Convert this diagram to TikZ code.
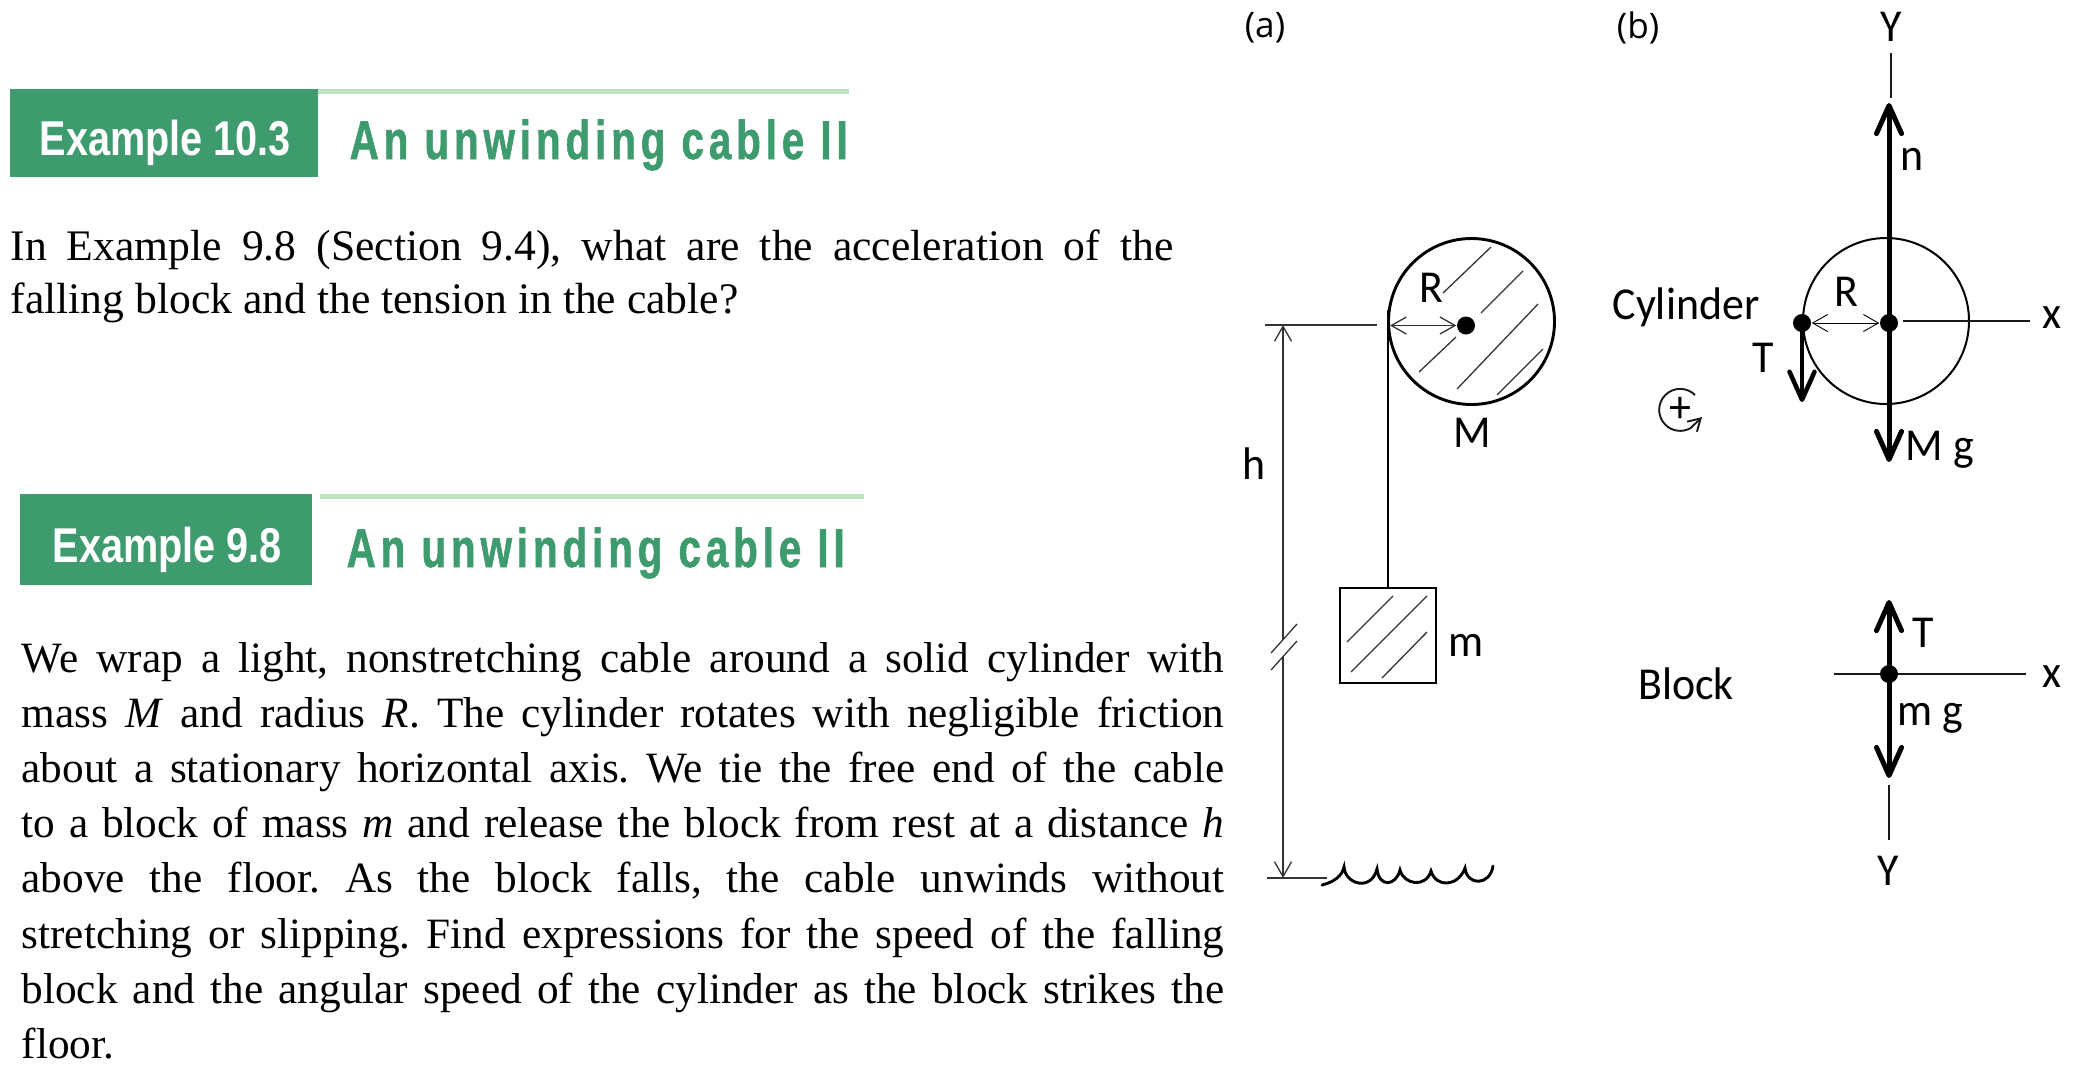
\documentclass[tikz,border=0pt]{standalone}
\usepackage{fontspec}
\setmainfont{Liberation Serif}
\newfontfamily\headfont[FakeStretch=0.81]{Liberation Sans}
\newfontfamily\titlefont[FakeStretch=0.74,LetterSpace=9,BoldFeatures={FakeBold=1}]{Liberation Sans}
\newfontfamily\handfont[FakeStretch=0.96]{Carlito}
\newfontfamily\capfont{Open Sans}
\usetikzlibrary{arrows.meta}
\definecolor{bookgreen}{HTML}{3D9B6E}
\definecolor{palegreen}{HTML}{BCE4C0}
\tikzset{
	x=0.01cm, y=-0.01cm,
	thinline/.style={line width=0.013cm, color=black!80},
	axisline/.style={line width=0.019cm, color=black!90},
	heavyline/.style={line width=0.029cm},
	forceline/.style={line width=0.05cm, -{Straight Barb[length=0.28cm, width=0.25cm, round]}},
	dimtip/.style={{Straight Barb[length=0.15cm, width=0.17cm]}-{Straight Barb[length=0.15cm, width=0.17cm]}},
	dot/.style={circle, fill=black, inner sep=0pt, minimum size=0.18cm},
	bodytext/.style={anchor=base west, inner sep=0pt, align=justify, font=\frenchspacing\fontsize{12.3pt}{15.7pt}\selectfont},
	headtext/.style={anchor=base west, inner sep=0pt, text=white, font=\headfont\bfseries\fontsize{13.9pt}{14pt}\selectfont},
	titletext/.style={anchor=base west, inner sep=0pt, text=bookgreen, font=\titlefont\bfseries\fontsize{15.5pt}{16pt}\selectfont},
	handtext/.style={inner sep=0pt, font=\handfont\fontsize{13pt}{14pt}\selectfont},
	captext/.style={inner sep=0pt, font=\capfont\fontsize{10pt}{12pt}\selectfont},
}
\begin{document}
\begin{tikzpicture}
	%%%%% START %%%%%
	\useasboundingbox (0, 0) rectangle (2073, 1090);

	% upper example
	\fill[bookgreen] (10, 89) rectangle (318, 177);
	\fill[palegreen] (318, 89) rectangle (849, 94);
	\node[headtext] (headA) at (39, 155) {Example 10.3};
	\node[titletext] (titleA) at (349, 159) {An unwinding cable II};
	\node[bodytext, text width=11.62cm, font=\frenchspacing\fontsize{12.4pt}{15.1pt}\selectfont] (textA) at (10, 260) {In Example 9.8 (Section 9.4), what are the acceleration of the\linebreak falling block and the tension in the cable?};

	% lower example
	\fill[bookgreen] (20, 494) rectangle (312, 585);
	\fill[palegreen] (320, 494) rectangle (864, 499);
	\node[headtext] (headB) at (52, 562) {Example 9.8};
	\node[titletext] (titleB) at (346, 567) {An unwinding cable II};
	\node[bodytext, text width=12.02cm] (textB) at (21, 672) {We wrap a light, nonstretching cable around a solid cylinder with\linebreak mass \textit{M} and radius \textit{R}. The cylinder rotates with negligible friction\linebreak about a stationary horizontal axis. We tie the free end of the cable\linebreak to a block of mass \textit{m} and release the block from rest at a distance \textit{h}\linebreak above the floor. As the block falls, the cable unwinds without\linebreak stretching or slipping. Find expressions for the speed of the falling\linebreak block and the angular speed of the cylinder as the block strikes the\linebreak floor.};

	% figure (a)
	\node[captext] (capA) at (1265, 28) {(a)};
	\draw[heavyline] (1471.5, 321.5) circle[radius=83];
	\node[dot] (axleA) at (1466, 325.5) {};
	\coordinate (rimA) at (1390, 325.5);
	\draw[thinline, dimtip] (rimA) -- (axleA);
	\foreach \xa/\ya/\xb/\yb in {1443/293/1491/247, 1481/313/1523/271, 1419/372/1456/337, 1457/389/1538/304, 1497/395/1543/349}
		\draw[thinline] (\xa, \ya) -- (\xb, \yb);
	\node[handtext] (radA) at (1431, 288) {R};
	\node[handtext] (massM) at (1472, 433) {M};

	\draw[heavyline] (1340, 588) rectangle (1436, 683);
	\coordinate (blockTop) at (1388, 588);
	\draw[line width=0.022cm] (1388, 310) -- (blockTop);
	\foreach \xa/\ya/\xb/\yb in {1347/642/1393/596, 1351/672/1427/596, 1382/678/1427/632}
		\draw[thinline] (\xa, \ya) -- (\xb, \yb);
	\node[handtext] (massm) at (1466, 645) {m};

	\draw[thinline] (1265, 325) -- (1377, 325);
	\draw[thinline] (1267, 878) -- (1327, 878);
	\draw[thinline, {Straight Barb[length=0.15cm, width=0.17cm]}-] (1283, 325) -- (1283, 640);
	\draw[thinline, -{Straight Barb[length=0.15cm, width=0.17cm]}] (1283, 657) -- (1283, 878);
	\draw[thinline] (1271, 653) -- (1297, 624);
	\draw[thinline] (1271, 670) -- (1297, 641);
	\node[handtext] (dist) at (1254, 464) {h};
	\draw[heavyline, line cap=round] (1322, 885) .. controls (1334, 882) and (1342, 876) .. (1344, 867)
		.. controls (1345, 884) and (1371, 892) .. (1377, 869)
		.. controls (1379, 888) and (1396, 886) .. (1400, 870)
		.. controls (1404, 885) and (1426, 888) .. (1431, 871)
		.. controls (1436, 888) and (1458, 887) .. (1465, 868)
		.. controls (1467, 886) and (1490, 886) .. (1493, 866);

	% figure (b), cylinder
	\node[captext] (capB) at (1638, 28) {(b)};
	\node[handtext] (axisY) at (1891, 27) {Y};
	\node[handtext] (axisX) at (2052, 318) {x};
	\draw[axisline] (1891, 53) -- (1891, 98);
	\draw[line width=0.02cm] (1886, 321) circle[radius=83];
	\node[dot] (axleB) at (1889, 323) {};
	\node[dot] (rimB) at (1802, 323) {};
	\coordinate (topB) at (1889, 103);
	\coordinate (lowB) at (1889, 462);
	\coordinate (tendB) at (1802, 402);
	\draw[forceline] (axleB.center) -- (topB);
	\draw[forceline] (axleB.center) -- (lowB);
	\draw[forceline, line width=0.045cm] (rimB.center) -- (tendB);
	\draw[line width=0.009cm, dimtip] (rimB) -- (axleB);
	\draw[axisline] (1903, 321) -- (2030, 321);
	\node[handtext] (normal) at (1912, 159) {n};
	\node[handtext] (radB) at (1846, 292) {R};
	\node[handtext] (cylinder) at (1686, 307) {Cylinder};
	\node[handtext] (tension) at (1763, 358) {T};
	\node[handtext] (weightM) at (1940, 450) {M g};
	\node[handtext] (plus) at (1680, 410) {+};
	\draw[axisline, -{Straight Barb[length=0.12cm, width=0.14cm]}] (1695, 395) arc (-45:-300:21) -- (1702, 417);

	% figure (b), block
	\node[handtext] (blockname) at (1686, 684) {Block};
	\draw[axisline] (1834, 674) -- (2026, 674);
	\node[dot] (centre) at (1889, 674) {};
	\coordinate (topC) at (1889, 600);
	\coordinate (lowC) at (1889, 778);
	\draw[forceline] (centre.center) -- (topC);
	\draw[forceline] (centre.center) -- (lowC);
	\draw[axisline] (1889, 785) -- (1889, 840);
	\node[handtext] (axisXb) at (2052, 677) {x};
	\node[handtext] (axisYb) at (1888, 871) {Y};
	\node[handtext] (tensionb) at (1923, 633) {T};
	\node[handtext] (weightm) at (1930, 718) {m g};
	%%%%% END %%%%%
\end{tikzpicture}
\end{document}
